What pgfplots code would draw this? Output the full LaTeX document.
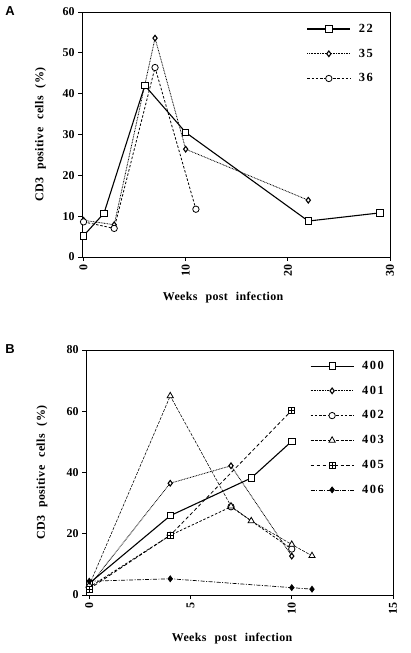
\documentclass[border=0pt]{standalone}
\usepackage{pgfplots}
\pgfplotsset{compat=1.18}
\usepackage{fontspec}
\setmainfont{Liberation Serif}
\setsansfont{Liberation Sans}
\newfontfamily\labfont[WordSpace=2.4,LetterSpace=3]{Liberation Serif}
\newfontfamily\legfont[LetterSpace=12]{Liberation Serif}

\pgfdeclareplotmark{boxplus}{%
  \pgfpathrectangle{\pgfpoint{-\pgfplotmarksize}{-\pgfplotmarksize}}{\pgfpoint{2\pgfplotmarksize}{2\pgfplotmarksize}}%
  \pgfusepathqfillstroke
  \pgfpathmoveto{\pgfpoint{-\pgfplotmarksize}{0pt}}\pgfpathlineto{\pgfpoint{\pgfplotmarksize}{0pt}}%
  \pgfpathmoveto{\pgfpoint{0pt}{-\pgfplotmarksize}}\pgfpathlineto{\pgfpoint{0pt}{\pgfplotmarksize}}%
  \pgfusepathqstroke}

\pgfplotsset{
  panel/.style={
    scale only axis, clip=false,
    axis line style={line width=0.8pt},
    tick align=outside, xtick pos=bottom, ytick pos=left,
    major tick length=4bp, tick style={line width=0.8pt, black},
    /pgf/number format/assume math mode=true,
    tick label style={font=\bfseries\fontsize{12}{13}\selectfont},
    x tick label style={rotate=90, anchor=east},
    label style={font=\labfont\bfseries\fontsize{12}{13}\selectfont},
    ylabel={CD3 positive cells (\%)},
    xlabel={Weeks post infection},
    legend style={draw=none, fill=none, font=\legfont\bfseries\fontsize{12.5}{13}\selectfont, row sep=11bp, column sep=6bp},
    legend cell align=right,
    legend image code/.code={\draw[mark repeat=2,mark phase=2,##1] plot coordinates {(0bp,0bp) (21.5bp,0bp) (43bp,0bp)};},
  },
  s1/.style={black, line width=1.1pt, solid, mark=square*, mark size=3.2pt, mark options={fill=white, solid, line width=0.8pt}},
  s2/.style={black, line width=0.8pt, dash pattern=on 0.8pt off 0.8pt, mark=diamond*, mark size=2.8pt, mark options={fill=white, solid, line width=1.1pt}},
  s3/.style={black, line width=0.8pt, dash pattern=on 2.5pt off 1.8pt, mark=*, mark size=3.2pt, mark options={fill=white, solid, line width=0.8pt}},
  s4/.style={black, line width=0.55pt, dash pattern=on 3pt off 1.3pt, mark=triangle*, mark size=3.6pt, mark options={fill=white, solid, line width=0.8pt}},
  s5/.style={black, line width=0.8pt, dash pattern=on 3.5pt off 2.5pt, mark=boxplus, mark size=3pt, mark options={fill=white, solid, line width=0.7pt}},
  s6/.style={black, line width=0.7pt, dash pattern=on 4pt off 1.5pt on 1pt off 1.5pt, mark=diamond*, mark size=3pt, mark options={fill=black, solid}},
}

\begin{document}
\begin{tikzpicture}[x=1bp,y=1bp]
\useasboundingbox (0,0) rectangle (410,653);

\node[font=\sffamily\bfseries\fontsize{13}{13}\selectfont] at (10,642) {A};
\node[font=\sffamily\bfseries\fontsize{13}{13}\selectfont] at (10,304) {B};

\begin{axis}[panel,
  at={(82bp,396bp)}, anchor=south west, width=308bp, height=245bp,
  xmin=-0.15, xmax=30, ymin=0, ymax=60,
  xtick={0,10,20,30}, ytick={0,10,20,30,40,50,60},
  ylabel style={at={(axis description cs:-0.135,0.5)}, anchor=center},
  xlabel style={at={(axis description cs:0.458,-0.167)}, anchor=center},
  legend style={at={(1,1)}, anchor=north east, xshift=-12bp, yshift=-8bp},
]
\addplot[s1] coordinates {(0,5.2) (2,10.7) (6,42) (10,30.5) (22,8.8) (29,10.8)};
\addlegendentry{22}
\addplot[s2] coordinates {(0,9.0) (3,7.9) (7,53.6) (10,26.4) (22,13.9)};
\addlegendentry{35}
\addplot[s3] coordinates {(0,8.6) (3,7.0) (7,46.4) (11,11.7)};
\addlegendentry{36}
\end{axis}

\begin{axis}[panel,
  at={(86bp,58bp)}, anchor=south west, width=307bp, height=245bp,
  xmin=-0.16, xmax=15, ymin=0, ymax=80,
  xtick={0,5,10,15}, ytick={0,20,40,60,80},
  ylabel style={at={(axis description cs:-0.143,0.5)}, anchor=center},
  xlabel style={at={(axis description cs:0.476,-0.176)}, anchor=center},
  legend style={at={(1,1)}, anchor=north east, xshift=-4bp, yshift=-7bp},
]
\addplot[s1] coordinates {(0,3.8) (4,25.9) (8,38.2) (10,50.2)};
\addlegendentry{400}
\addplot[s2] coordinates {(0,3.0) (4,36.5) (7,42.2) (10,12.7)};
\addlegendentry{401}
\addplot[s3] coordinates {(0,2.5) (4,19.5) (7,28.8) (10,15.0)};
\addlegendentry{402}
\addplot[s4] coordinates {(0,3.2) (4,65) (7,29) (8,24.2) (10,16.5) (11,12.8)};
\addlegendentry{403}
\addplot[s5] coordinates {(0,2.0) (4,19.5) (10,60.3)};
\addlegendentry{405}
\addplot[s6] coordinates {(0,4.5) (4,5.3) (10,2.4) (11,1.9)};
\addlegendentry{406}
\end{axis}
\end{tikzpicture}
\end{document}
